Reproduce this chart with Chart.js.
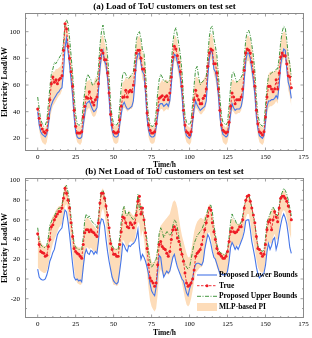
<!DOCTYPE html>
<html>
<head>
<meta charset="utf-8">
<script src="https://cdn.jsdelivr.net/npm/chart.js@4.4.0/dist/chart.umd.min.js"></script>
<style>
  html, body { margin: 0; padding: 0; background: #fff; }
  #wrapA { position: absolute; left: 0; top: 0; }
  #wrapB { position: absolute; left: 0; top: 165px; }
</style>
</head>
<body>
<div id="wrapA"><canvas id="chartA" width="312" height="170"></canvas></div>
<div id="wrapB"><canvas id="chartB" width="312" height="173"></canvas></div>
<script>
// hours of the test week, 0..167
const hours = Array.from({ length: 168 }, (_, i) => i);

// (a) Load of ToU customers
const trueA = [42,35,30,27,25,24,26,35,49,61,66,62,64,61,64,65,67,86,106,102,89,80,70,59,
  41,29,24,24,24,25,36,44,51,50,55,50,47,45,49,51,61,80,86,84,79,79,69,54,
  38,30,25,24,24,25,34,44,51,51,56,51,55,56,55,60,71,84,86,86,80,72,72,59,
  39,30,26,24,24,25,31,41,50,51,52,49,51,52,49,54,66,81,89,87,82,77,70,59,
  41,30,25,24,22.5,25,36,49,56,52,49,46,46,50,52,57,74,84,87,86,76,76,69,57,
  41,30,26,25,24,25,32,44,54,51,46,49,49,49,51,57,71,84,87,86,84,77,70,59,
  41,31,25,24,22.5,25,36,51,59,59,57,55,57,64,57,69,81,84,82,82,76,67,66,58];
const lowA = [40,30,25,23,22,21,23,30,40,45,48,50,52,54,55,57,58,70,88,95,85,75,64,52,
  36,25,21,20,20,21,30,38,46,47,48,45,42,40,41,43,55,72,82,86,78,75,65,50,
  34,26,22,21,21,22,30,38,45,47,44,42,42,43,44,48,62,78,83,84,76,70,68,54,
  35,26,22,21,21,22,28,37,45,46,46,44,45,46,44,48,60,76,83,82,77,72,65,53,
  36,26,22,21,20,22,32,42,48,45,43,41,42,43,44,48,66,80,86,84,72,70,63,52,
  36,27,23,22,21,22,28,38,46,43,41,42,42,42,44,50,64,78,84,84,80,72,64,53,
  36,27,22,21,20,22,32,44,48,48,49,49,50,52,50,60,75,82,87,86,72,62,58,50];
const upA = [51,42,34,31,29,30,33,45,58,68,72,77,76,78,80,82,84,92,106,109,106,95,82,68,
  52,38,31,30,30,32,45,55,64,68,66,64,60,60,62,64,72,90,100,105,96,92,82,66,
  46,36,31,30,30,32,44,58,68,70,68,65,65,66,68,70,80,94,99,100,95,86,84,70,
  48,36,31,29,29,31,40,54,64,68,66,63,63,62,62,64,76,92,100,103,97,90,82,70,
  50,37,32,31,30,33,46,60,72,74,66,60,62,63,64,66,82,96,103,104,95,89,82,68,
  50,37,32,31,30,32,44,58,68,70,66,62,63,64,66,68,80,94,100,101,97,90,82,70,
  50,38,32,30,29,31,44,58,67,68,69,70,70,72,72,80,92,100,104,103,94,82,76,66];
const mlpLoA = [36,26,20,17,16,15,17,24,34,40,44,46,48,50,52,53,56,68,86,90,82,70,58,46,
  32,22,17,16,15,17,25,33,40,42,43,40,37,36,37,40,50,66,76,80,74,70,60,46,
  30,21,17,16,16,17,25,34,42,43,42,40,41,42,42,45,56,72,78,80,72,64,62,48,
  31,21,17,16,16,17,23,32,40,42,42,40,41,42,41,44,55,70,78,78,72,66,58,47,
  31,21,17,16,15,17,26,37,43,42,40,38,38,40,41,45,60,74,80,78,68,64,57,46,
  31,22,17,16,15,17,23,33,41,40,38,38,39,39,41,46,58,72,78,78,74,66,58,47,
  31,22,17,16,15,17,26,38,43,44,44,45,46,48,46,56,70,76,80,80,68,56,52,44];
const mlpHiA = [46,38,32,29,28,28,31,42,56,66,70,70,72,72,73,74,78,92,108,107,100,90,80,68,
  50,36,30,29,29,31,44,54,62,63,64,62,60,62,66,64,72,88,96,98,92,88,80,64,
  46,35,30,29,29,31,42,54,62,63,66,64,66,68,66,70,80,92,96,97,92,84,82,68,
  47,36,30,29,28,30,38,52,60,62,64,62,64,64,62,66,76,90,96,97,92,86,80,68,
  48,36,30,29,28,31,44,58,66,66,64,62,62,64,66,68,82,94,98,98,90,86,80,66,
  48,36,30,29,28,31,42,56,64,64,62,62,63,64,66,68,80,92,97,97,94,88,80,68,
  48,36,30,29,28,30,44,60,68,70,70,70,70,72,70,80,92,98,100,100,92,82,78,68];

// (b) Net load of ToU customers
const trueB = [46,35,28,27,26,23,24,33,40,53,55,60,63.5,66,68.5,68.5,72,82,92,87,80,72,57,43,
  31,28,26,25,23,21,35,47,50,50,48,50,48,47,45,43,57,77,87,87,82,74,65,52,
  36,30,25,25,23,23,35,48,63,62,57,53,52,57,55,52,57,65,79,84,66,72,60,47,
  31,14.5,1,-2,-4,-7.5,-4,14.5,35,38,33,31,30,26,23,28,40,50,53,50,41.5,38,30,25,
  18,6,-4,-7.5,-6,-4,0,9,23,26,28,30,35,43,50,57,64,72,70,57,48,40,31,26,
  25,23,21,21,23,28,38,48,52,48,47,48,50,53,53,60,72,80,84,85,79,72,65,57,
  43,31,30,26,23,25,35,50,58,60,50,60,68.5,63,58,72,82,84,84,82,79,74,68.5,60];
const lowB = [10,2,0,-1,-1,0,4,10,18,22,27,30,38,45,48,50,52,62,70,68,58,45,30,15,
  2,-1,0,-2,-1,-3,12,25,30,26,25,29,28,25,28,26,38,55,61,60,54,40,28,18,
  10,2,-2,-4,-5,-3,8,20,36,34,30,28,34,33,35,36,38,42,50,32,20,25,22,18,
  12,5,-5,-12,-15,-17,-8,8,24,22,10,2,5,8,6,8,15,22,25,18,12,8,4,0,
  -2,-8,-14,-17,-10,-5,0,10,15,16,16,15,14,18,30,38,45,42,36,28,22,20,15,10,
  5,5,4,5,4,8,18,32,37,34,30,33,30,34,38,42,48,59,60,60,50,38,30,22,
  12,5,1,3,4,6,14,28,36,30,34,40,42,30,36,46,55,62,66,62,56,45,32,26];
const upB = [52,40,35,33,32,32,34,42,55,58,62,63,68,70,72,72,75,85,93,95,88,78,62,48,
  36,32,31,30,30,30,42,60,66,62,64,60,58,56,55,52,62,80,88,90,85,75,62,50,
  40,34,31,30,30,30,42,58,70,74,66,64,68,64,62,60,62,70,86,70,74,66,62,48,
  40,28,18,12,14,18,20,30,46,52,48,42,45,48,47,44,46,54,60,58,52,42,35,25,
  20,15,12,10,12,20,28,36,40,44,46,48,50,54,58,64,70,74,75,68,55,45,35,30,
  27,26,25,24,26,30,42,58,66,62,60,56,55,55,58,64,74,80,84,85,80,72,64,55,
  44,34,30,29,28,30,42,58,62,66,70,73,70,66,64,74,84,88,92,90,86,80,72,64];
const mlpLoB = [12,10,8,7,6,6,8,14,22,30,36,40,44,48,52,54,56,64,74,76,66,54,40,26,
  10,0,-4,-5,-6,-5,8,24,32,32,30,32,30,28,28,26,36,56,68,72,66,54,40,26,
  10,-2,-6,-6,-7,-6,6,22,40,38,34,32,36,38,38,36,40,50,58,56,42,50,40,26,
  6,-10,-22,-28,-31,-33,-30,-16,4,10,6,2,4,6,4,6,12,20,24,20,14,8,2,-4,
  -12,-20,-26,-28,-26,-20,-12,-2,6,8,10,12,12,16,28,38,46,48,42,32,24,18,12,8,
  6,6,5,5,5,8,18,30,36,34,32,34,34,36,38,44,52,62,66,66,58,46,38,30,
  20,12,8,7,6,8,16,30,38,36,36,42,46,40,40,50,62,68,70,68,62,54,46,40];
const mlpHiB = [52,44,38,35,34,33,35,44,54,60,64,66,70,72,74,74,78,88,96,94,86,76,62,48,
  38,34,33,32,32,32,42,58,62,62,60,58,56,54,52,50,62,80,90,92,86,76,64,50,
  40,34,32,31,31,32,42,56,70,74,68,66,70,68,66,64,66,76,86,84,76,70,62,48,
  40,32,24,18,16,18,22,34,48,54,56,58,60,62,64,66,72,78,80,78,72,62,52,44,
  38,32,26,22,22,28,38,48,54,58,60,62,62,60,64,66,72,76,74,66,56,46,36,30,
  28,27,26,25,26,30,42,56,62,60,58,56,56,56,58,64,74,80,84,84,80,72,64,56,
  44,34,30,29,28,30,42,58,62,66,70,72,70,66,64,74,84,88,90,88,84,78,70,62];

const xTicks = [0, 25, 50, 75, 100, 125, 150, 175];
const yTicksA = [20, 40, 60, 80, 100];
const yTicksB = [-20, 0, 20, 40, 60, 80, 100];

const SERIF = '"Liberation Serif", "Times New Roman", serif';
const FRAME = '#8a8a8a';

function pts(vals) {
  return vals.map((v, i) => ({ x: hours[i], y: v }));
}

// ticks pointing inward on all four sides, like the original figure
const frameTicks = {
  id: 'frameTicks',
  afterDraw(chart) {
    const { ctx, chartArea: a, scales: { x, y } } = chart;
    ctx.save();
    ctx.strokeStyle = FRAME;
    ctx.lineWidth = 1;
    ctx.strokeRect(a.left + 0.5, a.top + 0.5, a.right - a.left - 1, a.bottom - a.top - 1);
    ctx.lineWidth = 0.8;
    ctx.beginPath();
    for (let v = 0; v <= 175; v += 5) {
      const px = x.getPixelForValue(v);
      const len = v % 25 === 0 ? 3.5 : 2;
      ctx.moveTo(px, a.bottom); ctx.lineTo(px, a.bottom - len);
      ctx.moveTo(px, a.top); ctx.lineTo(px, a.top + len);
    }
    for (let v = -40; v <= 120; v += 10) {
      if (v < y.min || v > y.max) continue;
      const py = y.getPixelForValue(v);
      const len = v % 20 === 0 ? 3.5 : 2;
      ctx.moveTo(a.left, py); ctx.lineTo(a.left + len, py);
      ctx.moveTo(a.right, py); ctx.lineTo(a.right - len, py);
    }
    ctx.stroke();
    ctx.restore();
  }
};

// legend in the lower right of panel (b)
const cornerLegend = {
  id: 'cornerLegend',
  afterDraw(chart, args, opts) {
    if (!opts.show) return;
    const ctx = chart.ctx;
    const ds = chart.data.datasets;
    const items = [ds[1], ds[0], ds[2], ds[3]];
    const x0 = 197, x1 = 217, tx = 219;
    const rows = [110, 120.7, 131.3, 142];
    ctx.save();
    ctx.font = 'bold 7.5px ' + SERIF;
    ctx.textBaseline = 'middle';
    items.forEach((d, i) => {
      const yy = rows[i];
      if (d.fill) {
        ctx.fillStyle = d.backgroundColor;
        ctx.fillRect(x0, yy - 4, x1 - x0, 8);
      } else {
        ctx.strokeStyle = d.borderColor;
        ctx.lineWidth = d.borderWidth;
        ctx.setLineDash(d.borderDash || []);
        ctx.beginPath();
        ctx.moveTo(x0, yy); ctx.lineTo(x1, yy);
        ctx.stroke();
        ctx.setLineDash([]);
        if (d.pointRadius) {
          ctx.fillStyle = d.pointBackgroundColor;
          ctx.beginPath();
          ctx.arc((x0 + x1) / 2, yy, d.pointRadius, 0, Math.PI * 2);
          ctx.fill();
        }
      }
      ctx.fillStyle = '#000';
      ctx.fillText(d.label, tx, yy);
    });
    ctx.restore();
  }
};

function makeChart(id, title, xHeight, series, yMin, yMax, yTicks, legend) {
  new Chart(document.getElementById(id), {
    type: 'line',
    data: {
      datasets: [
        { label: 'True', data: pts(series.t), borderColor: '#ee1c25', borderWidth: 0.9,
          borderDash: [2.5, 1.5], pointRadius: 1.5, pointBackgroundColor: '#ee1c25',
          pointBorderWidth: 0, fill: false },
        { label: 'Proposed Lower Bounds', data: pts(series.lo), borderColor: '#4676e8',
          borderWidth: 1.1, pointRadius: 0, fill: false },
        { label: 'Proposed Upper Bounds', data: pts(series.up), borderColor: '#2e8b2a',
          borderWidth: 0.9, borderDash: [4, 1.5, 1, 1.5], pointRadius: 0, fill: false },
        { label: 'MLP-based PI', data: pts(series.mhi), borderColor: 'transparent',
          borderWidth: 0, pointRadius: 0, backgroundColor: '#fddcb9', fill: '+1' },
        { label: 'MLP lower', data: pts(series.mlo), borderColor: 'transparent',
          borderWidth: 0, pointRadius: 0, fill: false }
      ]
    },
    options: {
      responsive: false,
      animation: false,
      events: [],
      layout: { padding: { left: 0, right: 8, top: 0, bottom: 0 } },
      plugins: {
        legend: { display: false },
        tooltip: { enabled: false },
        title: {
          display: true, text: title, fullSize: false, color: '#000',
          font: { family: SERIF, size: 9, weight: 'bold' },
          padding: { top: 1, bottom: 1.2 }
        },
        cornerLegend: { show: legend }
      },
      scales: {
        x: {
          type: 'linear', min: -8.35, max: 175.35,
          afterBuildTicks: s => { s.ticks = xTicks.map(v => ({ value: v })); },
          afterFit: s => { s.height = xHeight; },
          grid: { display: false, drawTicks: false },
          border: { display: false },
          ticks: { color: '#000', padding: 2, maxRotation: 0, font: { family: SERIF, size: 7 } },
          title: { display: true, text: 'Time/h', color: '#000', padding: 0,
                   font: { family: SERIF, size: 7.5, weight: 'bold' } }
        },
        y: {
          min: yMin, max: yMax,
          afterBuildTicks: s => { s.ticks = yTicks.map(v => ({ value: v })); },
          afterFit: s => { s.width = 25; },
          grid: { display: false, drawTicks: false },
          border: { display: false },
          ticks: { color: '#000', padding: 5, font: { family: SERIF, size: 7 } },
          title: { display: true, text: 'Electricity Load/kW', color: '#000', padding: 0,
                   font: { family: SERIF, size: 8, weight: 'bold' } }
        }
      }
    },
    plugins: [frameTicks, cornerLegend]
  });
}

makeChart('chartA', '(a) Load of ToU customers on test set', 19,
  { t: trueA, lo: lowA, up: upA, mlo: mlpLoA, mhi: mlpHiA }, 10.5, 114, yTicksA, false);
makeChart('chartB', '(b) Net Load of ToU customers on test set', 20,
  { t: trueB, lo: lowB, up: upB, mlo: mlpLoB, mhi: mlpHiB }, -39.6, 102.5, yTicksB, true);
</script>
</body>
</html>
